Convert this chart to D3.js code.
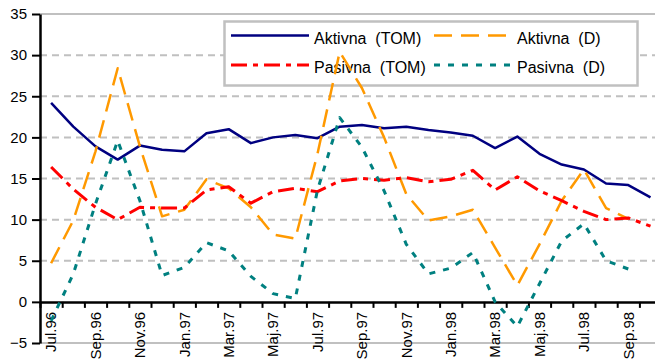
<!DOCTYPE html>
<html>
<head>
<meta charset="utf-8">
<script src="https://cdn.jsdelivr.net/npm/d3@7"></script>
<style>
  html, body { margin: 0; padding: 0; background: #fff; }
  svg { display: block; font-family: "Liberation Sans", Arial, sans-serif; }
</style>
</head>
<body>
<svg id="chart" width="655" height="364"></svg>
<script>
// Months, July 1996 – October 1998
const months = [
  "Jul.96", "Avg.96", "Sep.96", "Okt.96", "Nov.96", "Dec.96",
  "Jan.97", "Feb.97", "Mar.97", "Apr.97", "Maj.97", "Jun.97",
  "Jul.97", "Avg.97", "Sep.97", "Okt.97", "Nov.97", "Dec.97",
  "Jan.98", "Feb.98", "Mar.98", "Apr.98", "Maj.98", "Jun.98",
  "Jul.98", "Avg.98", "Sep.98", "Okt.98"
];

const aktivnaTOM = [24.2, 21.3, 18.9, 17.3, 19.0, 18.5, 18.3, 20.5, 21.0, 19.3,
                    20.0, 20.3, 19.9, 21.3, 21.5, 21.1, 21.3, 20.9, 20.6, 20.2,
                    18.7, 20.1, 18.0, 16.7, 16.1, 14.4, 14.2, 12.7];
const aktivnaD   = [4.7, 9.9, 18.3, 28.4, 18.9, 10.4, 11.2, 14.9, 13.8, 11.5,
                    8.2, 7.7, 18.0, 30.4, 26.0, 20.0, 13.1, 9.9, 10.4, 11.2,
                    6.6, 2.0, 7.0, 12.3, 16.1, 11.4, 10.1];
const pasivnaTOM = [16.4, 13.7, 11.5, 10.0, 11.5, 11.4, 11.4, 13.6, 14.0, 12.0,
                    13.4, 13.8, 13.4, 14.7, 15.0, 14.8, 15.1, 14.6, 14.9, 16.0,
                    13.6, 15.2, 13.5, 12.3, 11.0, 10.0, 10.2, 9.2];
const pasivnaD   = [-2.3, 3.4, 11.9, 19.6, 12.3, 3.2, 4.2, 7.2, 6.2, 3.1,
                    1.0, 0.4, 13.6, 22.4, 18.8, 13.5, 7.0, 3.4, 4.1, 6.0,
                    0.0, -3.0, 2.2, 7.4, 9.5, 5.0, 4.0];

const yTicks = [-5, 0, 5, 10, 15, 20, 25, 30, 35];

const series = [
  { name: "Aktivna  (TOM)", values: aktivnaTOM, color: "#000080", width: 2.5, dash: null },
  { name: "Aktivna  (D)",   values: aktivnaD,   color: "#ff9900", width: 2.5, dash: "18,9" },
  { name: "Pasivna  (TOM)", values: pasivnaTOM, color: "#ff0000", width: 3,   dash: "16,6,5,6" },
  { name: "Pasivna  (D)",   values: pasivnaD,   color: "#008080", width: 3,   dash: "6,8" }
];

const svg = d3.select("#chart");
const plotLeft = 40, plotRight = 661.6, plotTop = 14, plotBottom = 343;

const x = d3.scaleBand().domain(months).range([plotLeft, plotRight]).paddingInner(0).paddingOuter(0);
const xEdge = d3.scaleLinear().domain([0, months.length]).range([plotLeft, plotRight]);
const y = d3.scaleLinear().domain([-5, 35]).range([plotBottom, plotTop]);
const cx = m => x(m) + x.bandwidth() / 2;

// horizontal grid
const grid = svg.append("g");
yTicks.filter(v => v !== 0).forEach(v => {
  const solid = v === -5 || v === 35;
  grid.append("line")
    .attr("x1", plotLeft).attr("x2", 655)
    .attr("y1", y(v)).attr("y2", y(v))
    .attr("stroke", "#c0c0c0")
    .attr("stroke-width", 2)
    .attr("stroke-dasharray", solid ? null : "7,5");
});

// legend box (lines pass over it)
const lg = svg.append("g");
lg.append("rect")
  .attr("x", 224.5).attr("y", 21.5).attr("width", 413).attr("height", 64)
  .attr("fill", "#fff").attr("stroke", "#c0c0c0").attr("stroke-width", 2.5);
const legendPos = [
  { sx: 231, sy: 35.5 }, { sx: 434, sy: 35.5 },
  { sx: 231, sy: 65 },   { sx: 434, sy: 65 }
];
series.forEach((s, i) => {
  const p = legendPos[i];
  lg.append("line")
    .attr("x1", p.sx).attr("x2", p.sx + 78)
    .attr("y1", p.sy).attr("y2", p.sy)
    .attr("stroke", s.color).attr("stroke-width", s.width)
    .attr("stroke-dasharray", s.dash);
  lg.append("text")
    .attr("x", p.sx + 83).attr("y", p.sy + 8)
    .attr("font-size", 16).attr("fill", "#000")
    .style("white-space", "pre")
    .text(s.name);
});

// y axis
const yAxis = svg.append("g")
  .attr("transform", `translate(${plotLeft},0)`)
  .call(d3.axisLeft(y).tickValues(yTicks).tickSize(8).tickPadding(5).tickSizeOuter(0));
yAxis.select(".domain").attr("stroke", "#000").attr("stroke-width", 2.5);
yAxis.selectAll(".tick line").attr("stroke", "#000").attr("stroke-width", 2);
yAxis.selectAll(".tick text").attr("font-size", 15).attr("fill", "#000")
  .attr("font-family", "'Liberation Sans', Arial, sans-serif");

// x axis at zero
const xAxis = svg.append("g")
  .attr("transform", `translate(0,${y(0)})`)
  .call(d3.axisBottom(xEdge).tickValues(d3.range(0, months.length + 1)).tickSize(6).tickSizeOuter(0).tickFormat(""));
xAxis.select(".domain").attr("stroke", "#000").attr("stroke-width", 2.5);
xAxis.selectAll(".tick line").attr("stroke", "#000").attr("stroke-width", 2);

// month labels, every second month
svg.append("g").selectAll("text")
  .data(months.filter((m, i) => i % 2 === 0))
  .join("text")
  .attr("transform", d => `translate(${cx(d)},${y(0) + 10}) rotate(-90)`)
  .attr("text-anchor", "end")
  .attr("dy", "0.35em")
  .attr("font-size", 15)
  .attr("fill", "#000")
  .text(d => d);

// series lines
const line = d3.line()
  .x((d, i) => cx(months[i]))
  .y(d => y(d));

svg.append("g").selectAll("path")
  .data(series)
  .join("path")
  .attr("d", s => line(s.values))
  .attr("fill", "none")
  .attr("stroke", s => s.color)
  .attr("stroke-width", s => s.width)
  .attr("stroke-dasharray", s => s.dash)
  .attr("stroke-linejoin", "round");
</script>
</body>
</html>
